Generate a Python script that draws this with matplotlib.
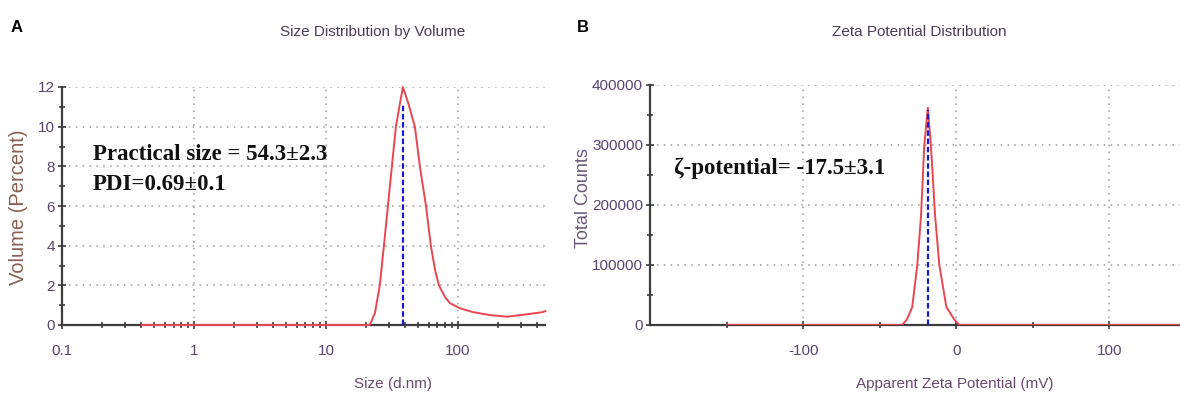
import matplotlib
matplotlib.use("Agg")
import matplotlib.pyplot as plt
from matplotlib.ticker import FixedLocator, NullFormatter

# ---------------- data ----------------
size_nm = [0.4, 21.5, 23.5, 25.6, 27.5, 29.5, 31.6, 33.9, 36.0, 38.3, 42.0, 47.2,
           51.5, 57.3, 62.4, 67.0, 71.8, 80.0, 87.0, 103.0, 130.0, 175.0, 235.0, 300.0, 440.0, 460.0]
volume_pct = [0.0, 0.0, 0.6, 2.0, 4.0, 6.0, 8.0, 10.0, 11.0, 12.0, 11.2, 10.0,
              8.0, 6.0, 4.0, 2.8, 2.0, 1.4, 1.1, 0.85, 0.65, 0.5, 0.42, 0.5, 0.65, 0.7]
size_peak = 38.3
size_peak_top = 11.1

zeta_mv = [-150, -35.4, -32.3, -28.8, -25.5, -23.1, -20.9, -18.6, -16.6, -13.8,
           -11.1, -6.5, -1.3, 2.0, 150]
zeta_counts = [0, 0, 9000, 30000, 100000, 180000, 300000, 362000, 300000, 180000,
               100000, 30000, 9000, 0, 0]
zeta_peak = -18.6
zeta_peak_top = 358000

size_xticks = [0.1, 1, 10, 100]
size_xticklabels = ["0.1", "1", "10", "100"]
size_yticks = [0, 2, 4, 6, 8, 10, 12]
zeta_xticks = [-100, 0, 100]
zeta_xticklabels = ["-100", "0", "100"]
zeta_yticks = [0, 100000, 200000, 300000, 400000]

# ---------------- style ----------------
W, H = 1180, 394
fig = plt.figure(figsize=(W / 100, H / 100), dpi=100)

narrow = ["Liberation Sans", "DejaVu Sans"]
serif = ["Liberation Serif", "DejaVu Serif"]
red = "#e8474f"
blue = "#1a1ad0"
axis_col = "#3c3c3c"
grid_col = "#9a9a9a"
tick_col = "#5a4470"
title_col = "#4a3c58"


def px_axes(l, r, t, b):
    return [l / W, 1 - b / H, (r - l) / W, (b - t) / H]


def style(ax):
    for s in ("top", "right"):
        ax.spines[s].set_visible(False)
    for s in ("left", "bottom"):
        ax.spines[s].set_color(axis_col)
        ax.spines[s].set_linewidth(1.6)
    ax.tick_params(which="both", direction="inout", color=axis_col, width=1.2)
    ax.tick_params(which="major", length=6)
    ax.tick_params(which="minor", length=5)
    ax.tick_params(axis="x", which="major", pad=11, labelsize=11, labelcolor=tick_col)
    ax.tick_params(axis="y", which="major", pad=2, labelsize=11, labelcolor=tick_col)
    for lab in ax.get_xticklabels() + ax.get_yticklabels():
        lab.set_family(narrow)
    ax.grid(True, which="major", color=grid_col, linestyle=(0, (1, 3.5)), linewidth=1.1)
    ax.set_axisbelow(True)


# ---------------- panel A ----------------
axA = fig.add_axes(px_axes(62, 545, 87, 325))
axA.set_xscale("log")
axA.plot(size_nm, volume_pct, color=red, lw=1.4, zorder=3, clip_on=False)
axA.plot([size_peak, size_peak], [0, size_peak_top], color=blue, lw=1.6,
         linestyle=(0, (2.5, 1.2)), zorder=4)
axA.set_xlim(0.1, 10 ** 2.66)
axA.set_ylim(0, 12)
axA.set_xticks(size_xticks)
axA.set_xticklabels(size_xticklabels)
axA.xaxis.set_minor_locator(FixedLocator(
    [m * 10.0 ** e for e in (-1, 0, 1, 2) for m in range(2, 10) if m * 10.0 ** e < 10 ** 2.66]))
axA.xaxis.set_minor_formatter(NullFormatter())
axA.set_yticks(size_yticks)
axA.yaxis.set_minor_locator(FixedLocator([1, 3, 5, 7, 9, 11]))
style(axA)

# ---------------- panel B ----------------
axB = fig.add_axes(px_axes(650, 1180, 85, 325))
axB.plot(zeta_mv, zeta_counts, color=red, lw=1.4, zorder=3)
axB.plot([zeta_peak, zeta_peak], [0, zeta_peak_top], color=blue, lw=1.6,
         linestyle=(0, (2.5, 1.2)), zorder=4)
axB.set_xlim(-200, (1180 - 957) / 1.527)
axB.set_ylim(0, 400000)
axB.set_xticks(zeta_xticks)
axB.set_xticklabels(zeta_xticklabels)
axB.xaxis.set_minor_locator(FixedLocator([-150, -50, 50]))
axB.set_yticks(zeta_yticks)
axB.set_yticklabels([str(v) for v in zeta_yticks])
axB.yaxis.set_minor_locator(FixedLocator([50000, 150000, 250000, 350000]))
style(axB)


def ftext(x, y, s, **kw):
    fig.text(x / W, 1 - y / H, s, **kw)


# titles and labels
ftext(373, 32, "Size Distribution by Volume", ha="center", va="center",
      family=narrow, fontsize=11, color=title_col)
ftext(919, 32, "Zeta Potential Distribution", ha="center", va="center",
      family=narrow, fontsize=11, color=title_col)
ftext(393, 384, "Size (d.nm)", ha="center", va="center",
      family=narrow, fontsize=11, color="#6a4a70")
ftext(955, 384, "Apparent Zeta Potential (mV)", ha="center", va="center",
      family=narrow, fontsize=11, color="#6a4a70")
ftext(19, 207, "Volume (Percent)", ha="center", va="center", rotation=90,
      family=narrow, fontsize=14.5, color="#8a6050")
ftext(583, 198, "Total Counts", ha="center", va="center", rotation=90,
      family=narrow, fontsize=13, color="#6a5a7a")

# panel letters
ftext(17, 28, "A", ha="center", va="center", fontsize=12, fontweight="bold",
      family=["Liberation Sans", "DejaVu Sans"])
ftext(583, 28, "B", ha="center", va="center", fontsize=12, fontweight="bold",
      family=["Liberation Sans", "DejaVu Sans"])

# annotations
ftext(93, 155, "Practical size = 54.3\u00b12.3", ha="left", va="center",
      family=serif, fontsize=16.5, fontweight="bold", color="#111111")
ftext(93, 184, "PDI=0.69\u00b10.1", ha="left", va="center",
      family=serif, fontsize=16.5, fontweight="bold", color="#111111")
ftext(674, 168, "\u03b6-potential= -17.5\u00b13.1", ha="left", va="center",
      family=serif, fontsize=16.5, fontweight="bold", color="#111111")

fig.savefig("out.png", dpi=100)
